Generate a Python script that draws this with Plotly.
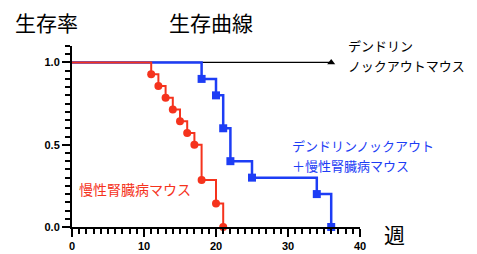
import plotly.graph_objects as go

# Data (weeks, survival fraction)
ko_x = [0, 36]
ko_y = [1.0, 1.0]
ko_ckd_x = [0, 18, 20, 21, 22, 25, 34, 36]
ko_ckd_y = [1.0, 0.9, 0.8, 0.6, 0.4, 0.3, 0.2, 0.0]
ckd_x = [0, 11, 12, 13, 14, 15, 16, 17, 18, 20, 21]
ckd_y = [1.0, 0.929, 0.857, 0.786, 0.714, 0.643, 0.571, 0.5, 0.286, 0.143, 0.0]

x_ticks = [0, 10, 20, 30, 40]
y_ticks = [0.0, 0.5, 1.0]

RED = "#f5331d"
BLUE = "#1d3df5"
JP = "Noto Sans CJK JP"

fig = go.Figure()

def add_series(x, y, color, symbol, size, width):
    fig.add_trace(go.Scatter(x=x, y=y, mode="lines", line=dict(color=color, width=width, shape="hv"),
                             hoverinfo="skip", showlegend=False))
    fig.add_trace(go.Scatter(x=x[1:], y=y[1:], mode="markers",
                             marker=dict(color=color, symbol=symbol, size=size, line=dict(width=0)),
                             cliponaxis=False, showlegend=False))

add_series(ko_x, ko_y, "black", "triangle-up", 7, 1.2)
add_series(ko_ckd_x, ko_ckd_y, BLUE, "square", 8, 2.5)
add_series(ckd_x, ckd_y, RED, "circle", 8, 2)

tf = dict(family="Liberation Sans", size=11, color="black")

fig.update_xaxes(range=[0, 40], showline=True, linecolor="black", linewidth=2,
                 showgrid=False, zeroline=False,
                 ticks="outside", ticklen=8, tickwidth=2, tickcolor="black",
                 tickmode="array", tickvals=x_ticks, ticktext=["<b>%d</b>" % v for v in x_ticks], tickfont=tf,
                 minor=dict(dtick=1, ticks="outside", ticklen=5, tickwidth=2, tickcolor="black"))
fig.update_yaxes(range=[0, 1.1], showline=True, linecolor="black", linewidth=2,
                 showgrid=False, zeroline=False,
                 ticks="outside", ticklen=8, tickwidth=2, tickcolor="black",
                 tickmode="array", tickvals=y_ticks, ticktext=["<b>%.1f</b>" % v for v in y_ticks], tickfont=tf,
                 minor=dict(dtick=0.05, ticks="outside", ticklen=5, tickwidth=2, tickcolor="black"))

annots = [
    dict(x=12, y=21, text="生存率", size=21, color="black"),
    dict(x=167, y=21, text="生存曲線", size=21, color="black"),
    dict(x=346, y=45, text="デンドリン", size=13, color="black"),
    dict(x=346, y=65, text="ノックアウトマウス", size=13, color="black"),
    dict(x=290, y=145, text="デンドリンノックアウト", size=13, color=BLUE),
    dict(x=290, y=165, text="＋慢性腎臓病マウス", size=13, color=BLUE),
    dict(x=77, y=189, text="慢性腎臓病マウス", size=14, color=RED),
    dict(x=382, y=234, text="週", size=21, color="black"),
]

L, R, T, B = 71.5, 117, 45.5, 27
pw, ph = 477 - L - R, 254 - T - B
for a in annots:
    fig.add_annotation(x=(a["x"] - L) / pw, y=1 - (a["y"] - T) / ph, xref="paper", yref="paper",
                       text=a["text"], showarrow=False, xanchor="left", yanchor="middle",
                       font=dict(family=JP, size=a["size"], color=a["color"]))

fig.update_layout(width=477, height=254, margin=dict(l=L, r=R, t=T, b=B, autoexpand=False),
                  paper_bgcolor="white", plot_bgcolor="white")

fig.write_html("out.html")
